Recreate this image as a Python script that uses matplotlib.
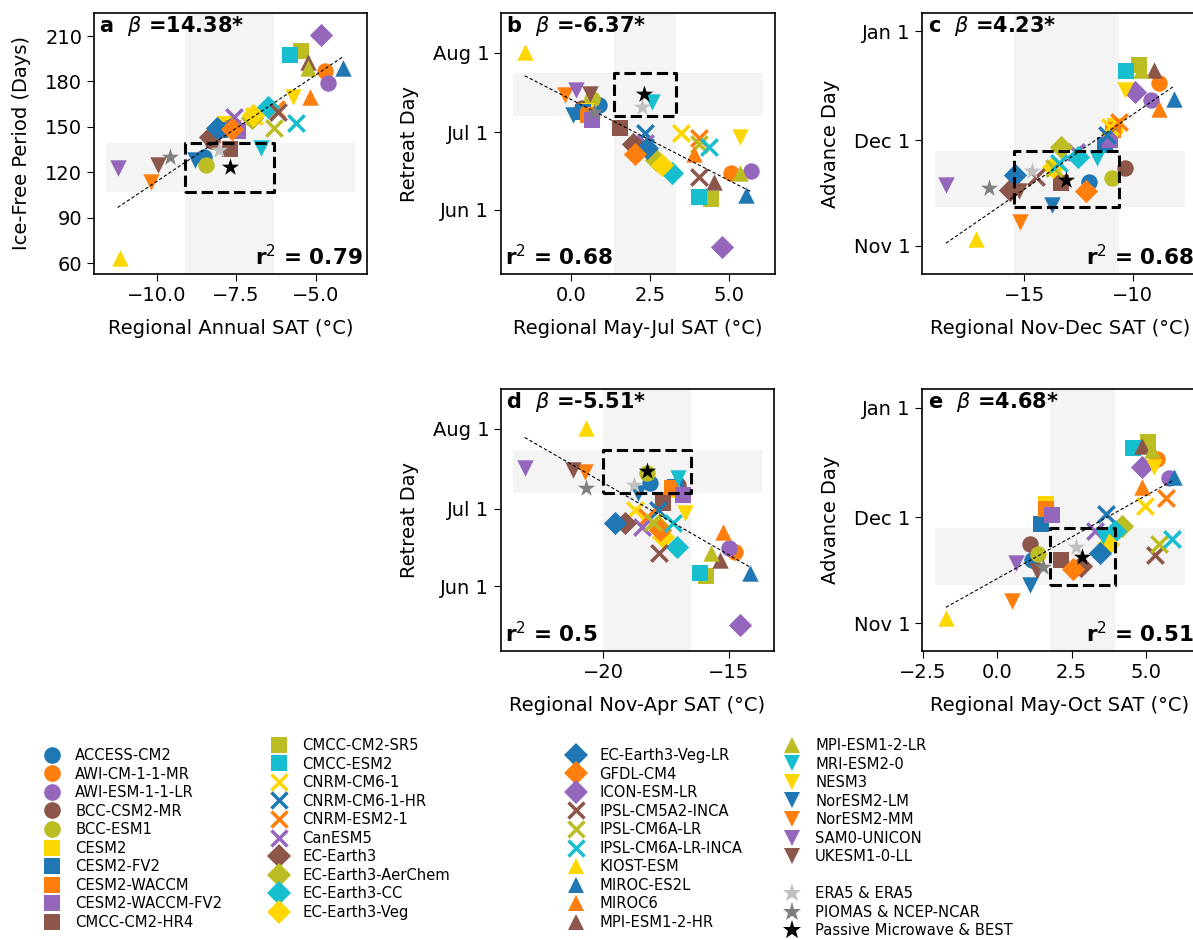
import matplotlib
matplotlib.use("Agg")
import matplotlib.pyplot as plt
from matplotlib.lines import Line2D
import numpy as np

# models, marker and colour per model
models = ["ACCESS-CM2", "AWI-CM-1-1-MR", "AWI-ESM-1-1-LR", "BCC-CSM2-MR", "BCC-ESM1",
          "CESM2", "CESM2-FV2", "CESM2-WACCM", "CESM2-WACCM-FV2", "CMCC-CM2-HR4",
          "CMCC-CM2-SR5", "CMCC-ESM2", "CNRM-CM6-1", "CNRM-CM6-1-HR", "CNRM-ESM2-1",
          "CanESM5", "EC-Earth3", "EC-Earth3-AerChem", "EC-Earth3-CC", "EC-Earth3-Veg",
          "EC-Earth3-Veg-LR", "GFDL-CM4", "ICON-ESM-LR", "IPSL-CM5A2-INCA", "IPSL-CM6A-LR",
          "IPSL-CM6A-LR-INCA", "KIOST-ESM", "MIROC-ES2L", "MIROC6", "MPI-ESM1-2-HR",
          "MPI-ESM1-2-LR", "MRI-ESM2-0", "NESM3", "NorESM2-LM", "NorESM2-MM",
          "SAM0-UNICON", "UKESM1-0-LL"]
BL, OR, PU, BR, OL, GO, CY = "#1f77b4", "#ff7f0e", "#9467bd", "#8c564b", "#bcbd22", "#ffd700", "#17becf"
colors = [BL, OR, PU, BR, OL,
          GO, BL, OR, PU, BR, OL, CY,
          GO, BL, OR, PU,
          BR, OL, CY, GO, BL, OR, PU,
          BR, OL, CY,
          GO, BL, OR, BR, OL,
          CY, GO, BL, OR, PU, BR]
markers = ["o"] * 5 + ["s"] * 7 + ["x"] * 4 + ["D"] * 7 + ["x"] * 3 + ["^"] * 5 + ["v"] * 6

obs_names = ["ERA5 & ERA5", "PIOMAS & NCEP-NCAR", "Passive Microwave & BEST"]
obs_colors = ["#c0c0c0", "#808080", "black"]

# panel a: annual SAT vs ice-free period
a_x = [-8.52, -4.69, -4.60, -8.25, -8.44, -7.85, -8.00, -7.60, -7.45, -7.70,
       -5.47, -5.81, -6.95, -7.90, -6.25, -7.57, -8.31, -7.00, -6.51, -6.98,
       -8.10, -7.62, -4.84, -6.19, -6.30, -5.61, -11.14, -4.13, -5.19, -5.24,
       -5.24, -6.72, -5.70, -8.78, -10.16, -11.22, -9.95]
a_y = [130.4, 186.9, 179.2, 141.0, 124.9, 152.0, 148.0, 149.0, 147.5, 135.5,
       200.3, 197.5, 157.0, 150.0, 162.0, 156.3, 143.5, 156.0, 163.3, 157.9,
       149.5, 148.4, 210.7, 160.0, 149.1, 152.4, 63.2, 188.7, 169.5, 193.0,
       188.7, 135.9, 169.5, 128.2, 113.8, 122.7, 124.9]
a_obs_x = [-8.04, -9.58, -7.69]
a_obs_y = [134.8, 130.4, 123.8]
a_box = [-9.10, -6.31, 107.2, 139.6]

# panel b: May-Jul SAT vs retreat day (day of year)
b_x = [0.87, 5.05, 5.69, 0.35, 0.66, 0.50, 0.39, 0.55, 0.66, 1.54,
       4.42, 4.05, 3.46, 2.35, 4.05, 2.35, 1.96, 2.67, 3.20, 2.88,
       2.40, 2.03, 4.77, 4.05, 4.05, 4.36, -1.46, 5.53, 3.89, 4.52,
       5.32, 2.56, 5.32, 0.07, -0.19, 0.16, 0.60]
b_y = [192.6, 166.1, 167.1, 191.5, 195.2, 190.5, 190.0, 188.7, 186.8, 183.8,
       156.0, 157.0, 181.6, 181.6, 179.7, 178.0, 177.7, 171.2, 166.1, 169.3,
       175.8, 173.8, 137.6, 164.8, 177.7, 176.4, 213.3, 157.6, 173.8, 162.8,
       166.1, 193.9, 180.3, 188.7, 196.5, 198.5, 196.9]
b_obs_x = [2.25, 0.71, 2.32]
b_obs_y = [192.0, 190.0, 196.8]
b_box = [1.37, 3.31, 188.3, 205.2]

# panel c: Nov-Dec SAT vs advance day
c_x = [-12.02, -8.78, -9.14, -10.34, -10.97, -10.80, -11.28, -10.90, -11.05, -13.31,
       -9.72, -10.31, -11.05, -11.20, -10.61, -12.60, -15.66, -13.31, -12.53, -13.70,
       -15.45, -12.17, -9.88, -14.48, -13.63, -13.39, -17.25, -8.08, -8.78, -9.02,
       -9.60, -11.64, -10.34, -13.73, -15.19, -18.63, -15.27]
c_y = [323.2, 351.3, 346.4, 327.2, 324.1, 339.0, 333.6, 338.0, 335.0, 322.9,
       356.3, 354.7, 338.8, 336.4, 340.2, 331.5, 320.8, 333.1, 330.3, 327.4,
       325.0, 320.6, 348.7, 324.6, 327.0, 328.4, 307.0, 346.6, 344.0, 354.9,
       355.0, 329.8, 349.2, 316.5, 311.8, 322.2, 320.5]
c_obs_x = [-14.67, -16.64, -13.08]
c_obs_y = [326.3, 321.3, 323.8]
c_box = [-15.47, -10.61, 315.9, 331.9]

# panel d: Nov-Apr SAT vs retreat day
d_x = [-18.13, -14.73, -15.00, -17.00, -18.27, -17.20, -17.15, -17.27, -16.80, -17.60,
       -15.89, -16.13, -18.73, -17.80, -18.27, -18.47, -19.13, -17.80, -17.04, -17.60,
       -19.53, -17.73, -14.53, -17.76, -18.00, -17.20, -20.67, -14.13, -15.23, -15.33,
       -15.69, -17.00, -16.73, -18.60, -20.73, -23.13, -21.20]
d_y = [192.2, 165.4, 166.7, 191.3, 195.9, 189.5, 190.5, 190.0, 187.4, 184.2,
       156.0, 157.0, 181.6, 181.6, 179.0, 175.1, 176.4, 175.5, 167.4, 171.2,
       176.4, 173.8, 137.0, 164.8, 177.1, 176.4, 213.3, 157.0, 173.2, 162.2,
       165.0, 193.9, 180.3, 188.1, 196.5, 197.8, 197.2]
d_obs_x = [-18.76, -20.67, -18.27]
d_obs_y = [191.3, 190.0, 196.8]
d_box = [-20.0, -16.49, 188.3, 204.9]

# panel e: May-Oct SAT vs advance day
e_x = [1.17, 5.38, 5.78, 1.09, 1.38, 1.65, 1.46, 1.63, 1.83, 2.14,
       5.06, 4.56, 4.98, 3.67, 5.67, 3.28, 2.82, 4.19, 3.96, 3.73,
       3.45, 2.54, 4.87, 5.32, 5.44, 5.89, -1.73, 5.95, 4.87, 4.87,
       5.21, 3.56, 5.27, 1.09, 0.49, 0.63, 1.34]
e_y = [322.8, 351.6, 346.2, 327.4, 324.6, 338.8, 333.1, 337.4, 335.8, 322.8,
       356.4, 354.5, 338.3, 336.0, 340.4, 331.2, 321.2, 332.6, 331.2, 327.4,
       324.8, 320.3, 349.2, 324.4, 327.4, 328.8, 306.5, 346.4, 343.7, 355.1,
       354.0, 329.8, 349.2, 316.0, 311.4, 322.2, 319.8]
e_obs_x = [2.65, 1.54, 2.86]
e_obs_y = [326.5, 320.9, 323.8]
e_box = [1.77, 3.96, 315.8, 331.9]

betas = ["14.38", "-6.37", "4.23", "-5.51", "4.68"]
r2s = ["0.79", "0.68", "0.68", "0.5", "0.51"]

retreat_ticks = [213, 182, 152]
retreat_labels = ["Aug 1", "Jul 1", "Jun 1"]
advance_ticks = [366, 335, 305]
advance_labels = ["Jan 1", "Dec 1", "Nov 1"]

plt.rcParams["font.size"] = 14
plt.rcParams["axes.linewidth"] = 1.2
plt.rcParams["axes.labelpad"] = 10
plt.rcParams["xtick.major.size"] = 5
plt.rcParams["ytick.major.size"] = 5

W, H = 1193, 940
fig = plt.figure(figsize=(W / 100, H / 100), dpi=100)


def add_ax(l, t, w, h):
    return fig.add_axes([l / W, 1 - (t + h) / H, w / W, h / H])


def panel(ax, x, y, ox, oy, box, letter, beta, r2, r2_left, xlabel, ylabel, ylim, xticks):
    for i in range(len(x)):
        lw = 2.5 if markers[i] == "x" else 0
        ax.scatter(x[i], y[i], s=140, marker=markers[i], c=colors[i], linewidths=lw, zorder=2)
    # grey bands for observational range
    x0, x1 = ax.get_xlim()
    ax.axvspan(box[0], box[1], color="#f4f4f4", zorder=0, lw=0)
    ax.fill_between([x0, x1], box[2], box[3], color="#f4f4f4", zorder=0, lw=0)
    ax.plot([box[0], box[1], box[1], box[0], box[0]], [box[2], box[2], box[3], box[3], box[2]],
            "k--", lw=2.2, zorder=3)
    # regression over models
    xa = np.array(x)
    p = np.polyfit(xa, np.array(y), 1)
    xs = np.array([xa.min(), xa.max()])
    ax.plot(xs, np.polyval(p, xs), "k--", lw=0.8, dashes=(3, 2), zorder=4)
    for j in range(3):
        ax.scatter(ox[j], oy[j], s=170, marker="*", c=obs_colors[j], linewidths=0, zorder=5)
    ax.set_ylim(ylim)
    ax.set_xticks(xticks)
    ax.set_xlabel(xlabel)
    ax.set_ylabel(ylabel)
    ax.text(0.02, 0.995, letter + r"  $\beta$ =" + beta + "*", transform=ax.transAxes,
            ha="left", va="top", fontsize=15, fontweight="bold")
    if r2_left:
        ax.text(0.015, 0.02, r"r$^2$ = " + r2, transform=ax.transAxes,
                ha="left", va="bottom", fontsize=15.5, fontweight="bold")
    else:
        ax.text(0.985, 0.02, r"r$^2$ = " + r2, transform=ax.transAxes,
                ha="right", va="bottom", fontsize=15.5, fontweight="bold")


ax_a = add_ax(94, 13, 273, 261)
ax_b = add_ax(501, 13, 274, 261)
ax_c = add_ax(922, 13, 276, 261)
ax_d = add_ax(501, 389, 273, 262)
ax_e = add_ax(922, 389, 276, 262)

panel(ax_a, a_x, a_y, a_obs_x, a_obs_y, a_box, "a", betas[0], r2s[0], False,
      "Regional Annual SAT (°C)", "Ice-Free Period (Days)", (52.9, 225.2), [-10, -7.5, -5])
ax_a.set_yticks([60, 90, 120, 150, 180, 210])
ax_a.set_xticklabels(["\u221210.0", "\u22127.5", "\u22125.0"])

panel(ax_b, b_x, b_y, b_obs_x, b_obs_y, b_box, "b", betas[1], r2s[1], True,
      "Regional May-Jul SAT (°C)", "Retreat Day", (126.9, 228.5), [0, 2.5, 5])
ax_b.set_yticks(retreat_ticks, retreat_labels)
ax_b.set_xticklabels(["0.0", "2.5", "5.0"])

panel(ax_c, c_x, c_y, c_obs_x, c_obs_y, c_box, "c", betas[2], r2s[2], False,
      "Regional Nov-Dec SAT (°C)", "Advance Day", (296.9, 371.2), [-15, -10])
ax_c.set_yticks(advance_ticks, advance_labels)

panel(ax_d, d_x, d_y, d_obs_x, d_obs_y, d_box, "d", betas[3], r2s[3], True,
      "Regional Nov-Apr SAT (°C)", "Retreat Day", (126.9, 228.5), [-20, -15])
ax_d.set_yticks(retreat_ticks, retreat_labels)

panel(ax_e, e_x, e_y, e_obs_x, e_obs_y, e_box, "e", betas[4], r2s[4], False,
      "Regional May-Oct SAT (°C)", "Advance Day", (297.2, 371.3), [-2.5, 0, 2.5, 5])
ax_e.set_yticks(advance_ticks, advance_labels)
ax_e.set_xticklabels(["\u22122.5", "0.0", "2.5", "5.0"])

# legend, four columns
handles = []
for i, m in enumerate(models):
    mew = 2.5 if markers[i] == "x" else 0
    handles.append(Line2D([], [], ls="None", marker=markers[i], color=colors[i],
                          markersize=12, markeredgewidth=mew, label=m))
blank = Line2D([], [], ls="None", label=" ")
obs_handles = [Line2D([], [], ls="None", marker="*", color=obs_colors[j], markersize=14,
                      markeredgewidth=0, label=obs_names[j]) for j in range(3)]
cols = [handles[0:10], handles[10:20], handles[20:30], handles[30:37] + [blank] + obs_handles]
col_pos = [(45, 748), (272, 738), (569, 748), (785, 738)]
for hs, (px, py) in zip(cols, col_pos):
    fig.legend(handles=hs, loc="upper left", bbox_to_anchor=(px / W, 1 - py / H),
               frameon=False, fontsize=10.6, borderpad=0, borderaxespad=0,
               handlelength=1.0, handletextpad=1.05, labelspacing=0.24)

fig.savefig("out.png", dpi=100)
